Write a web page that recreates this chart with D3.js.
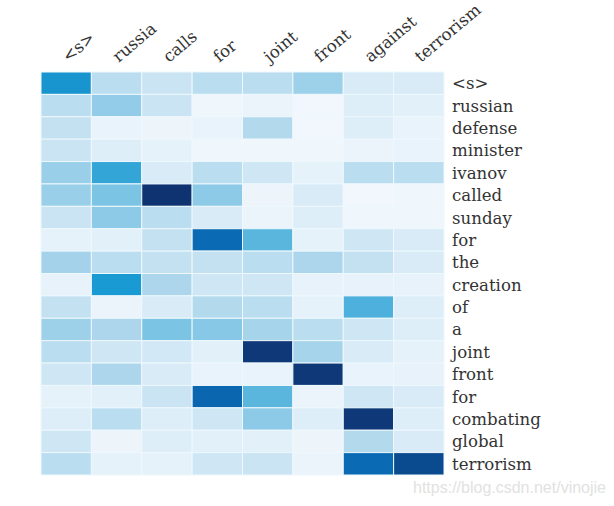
<!DOCTYPE html>
<html><head><meta charset="utf-8">
<script src="https://cdn.jsdelivr.net/npm/d3@7"></script>
<style>body{margin:0;background:#fff}</style>
</head><body><svg id="c" width="614" height="506"></svg>
<script>
const sourceWords = ["<s>","russia","calls","for","joint","front","against","terrorism"];
const targetWords = ["<s>","russian","defense","minister","ivanov","called","sunday","for","the","creation","of","a","joint","front","for","combating","global","terrorism"];
const attention = [
  [0.62,0.25,0.20,0.25,0.25,0.35,0.15,0.15],
  [0.25,0.38,0.20,0.03,0.05,0.02,0.12,0.10],
  [0.22,0.06,0.04,0.06,0.28,0.02,0.12,0.06],
  [0.20,0.12,0.08,0.03,0.03,0.03,0.05,0.06],
  [0.36,0.56,0.15,0.25,0.18,0.08,0.25,0.25],
  [0.36,0.45,1.00,0.40,0.04,0.15,0.02,0.03],
  [0.20,0.40,0.25,0.15,0.05,0.12,0.03,0.03],
  [0.08,0.10,0.22,0.80,0.50,0.08,0.18,0.15],
  [0.33,0.25,0.22,0.22,0.25,0.30,0.22,0.15],
  [0.07,0.60,0.30,0.18,0.18,0.07,0.07,0.07],
  [0.22,0.05,0.15,0.28,0.25,0.08,0.52,0.12],
  [0.35,0.30,0.45,0.42,0.32,0.25,0.18,0.12],
  [0.25,0.18,0.17,0.10,0.98,0.32,0.15,0.08],
  [0.18,0.30,0.15,0.06,0.06,0.98,0.06,0.07],
  [0.08,0.10,0.20,0.82,0.50,0.05,0.18,0.15],
  [0.12,0.25,0.12,0.18,0.40,0.12,0.98,0.12],
  [0.18,0.04,0.12,0.10,0.10,0.04,0.28,0.15],
  [0.25,0.08,0.08,0.18,0.20,0.05,0.80,0.92]
];
const colorStops = [0,0.15,0.3,0.45,0.6,0.8,0.92,1];
const colorRange = ["#f5f9fd","#d8ebf7","#add6ec","#7cc4e4","#1a9ad2","#0a6bb4","#0a4a8e","#0f3270"];
const watermark = "https://blog.csdn.net/vinojie";

const svg = d3.select("#c");
const x = d3.scaleBand().domain(d3.range(sourceWords.length)).range([41,444]).paddingInner(0);
const y = d3.scaleBand().domain(d3.range(targetWords.length)).range([72,475]).paddingInner(0);
const color = d3.scaleLinear().domain(colorStops).range(colorRange).interpolate(d3.interpolateRgb);

const cells = [];
attention.forEach((row,i)=>row.forEach((v,j)=>cells.push({i,j,v})));
svg.append("g").selectAll("rect").data(cells).join("rect")
  .attr("x",d=>x(d.j)).attr("y",d=>y(d.i))
  .attr("width",x.bandwidth()).attr("height",y.bandwidth())
  .attr("fill",d=>color(d.v))
  .attr("stroke","#eef8fd").attr("stroke-width",1);

const font = "'DejaVu Serif', serif";
svg.append("g").selectAll("text").data(targetWords).join("text")
  .attr("x",452).attr("y",(d,i)=>y(i)+y.bandwidth()/2)
  .attr("dy","0.36em")
  .attr("font-family",font).attr("font-size",16.6).attr("fill","#333")
  .text(d=>d);

svg.append("g").selectAll("text").data(sourceWords).join("text")
  .attr("transform",(d,i)=>`translate(${x(i)+x.bandwidth()/2+2},63) rotate(-40)`)
  .attr("font-family",font).attr("font-size",16.6).attr("fill","#333")
  .text(d=>d);

svg.append("text").attr("x",413).attr("y",493)
  .attr("font-family","'Liberation Sans', Arial, sans-serif").attr("font-size",16)
  .attr("fill","#e2e2e2").text(watermark);
</script></body></html>
